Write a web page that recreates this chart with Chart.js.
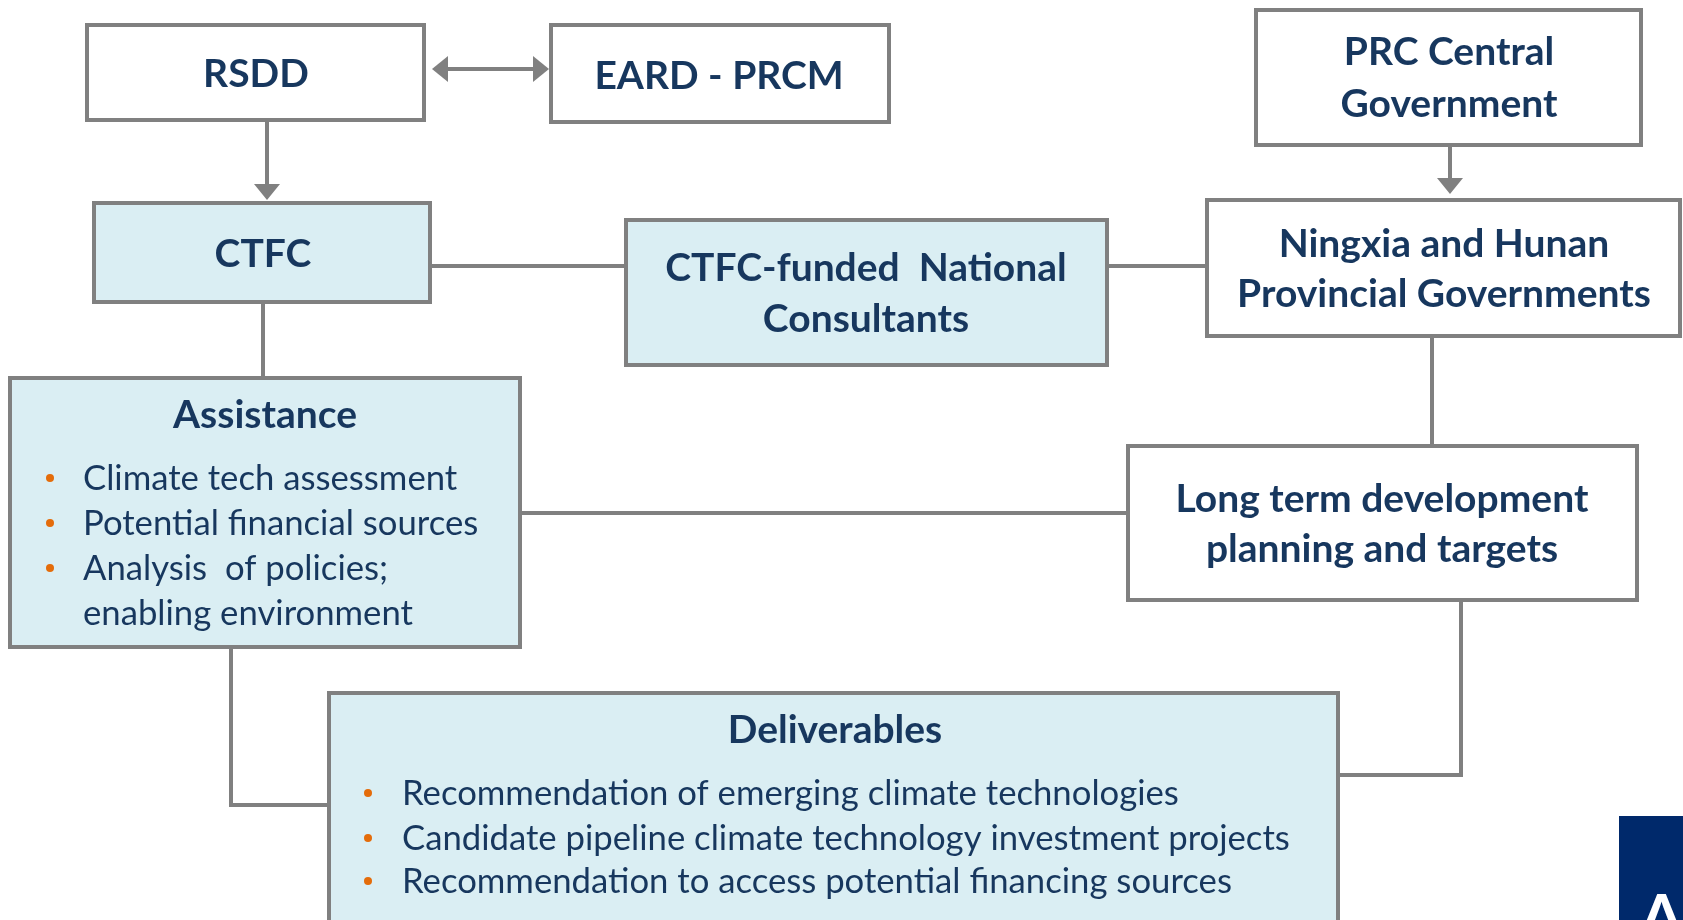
<!DOCTYPE html>
<html>
<head>
<meta charset="utf-8">
<script src="https://cdn.jsdelivr.net/npm/chart.js@4.4.1/dist/chart.umd.min.js"></script>
<style>
  html, body { margin: 0; padding: 0; background: #ffffff; }
  #wrap { width: 1683px; height: 920px; position: relative; }
</style>
</head>
<body>
<div id="wrap"><canvas id="flowChart"></canvas></div>
<script>
// Box captions (one entry per box, "\n" = line break)
const boxTitles = [
  "RSDD",
  "EARD - PRCM",
  "PRC Central\nGovernment",
  "CTFC",
  "CTFC-funded  National\nConsultants",
  "Ningxia and Hunan\nProvincial Governments",
  "Assistance",
  "Long term development\nplanning and targets",
  "Deliverables"
];
// Bullet lists
const assistanceItems = [
  "Climate tech assessment",
  "Potential financial sources",
  "Analysis  of policies;\nenabling environment"
];
const deliverableItems = [
  "Recommendation of emerging climate technologies",
  "Candidate pipeline climate technology investment projects",
  "Recommendation to access potential financing sources"
];

// Layout in diagram units (1 unit = 1 px of the 1683 x 920 slide)
const WHITE = "#ffffff", AQUA = "#daeef3";
const boxLayout = [
  { x0: 87,   y0: 25,  x1: 424,  y1: 120, fill: WHITE, cx: 256,  base: [87] },
  { x0: 551,  y0: 25,  x1: 889,  y1: 122, fill: WHITE, cx: 719,  base: [89] },
  { x0: 1256, y0: 10,  x1: 1641, y1: 145, fill: WHITE, cx: 1449, base: [65, 117] },
  { x0: 94,   y0: 203, x1: 430,  y1: 302, fill: AQUA,  cx: 263,  base: [267] },
  { x0: 626,  y0: 220, x1: 1107, y1: 365, fill: AQUA,  cx: 866,  base: [281, 332] },
  { x0: 1207, y0: 200, x1: 1680, y1: 336, fill: WHITE, cx: 1444, base: [257, 307] },
  { x0: 10,   y0: 378, x1: 520,  y1: 647, fill: AQUA,  cx: 265,  base: [428] },
  { x0: 1128, y0: 446, x1: 1637, y1: 600, fill: WHITE, cx: 1382, base: [512, 562] },
  { x0: 329,  y0: 693, x1: 1338, y1: 940, fill: AQUA,  cx: 835,  base: [743] }
];
const listLayout = [
  { items: assistanceItems,  bulletX: 50,  textX: 83,  base: [490, 535, 580, 625] },
  { items: deliverableItems, bulletX: 368, textX: 402, base: [805, 850, 893] }
];

// Connectors: polylines, arrow = which ends get a head
const connectors = [
  { pts: [[267, 120], [267, 184]], arrow: "end" },
  { pts: [[448, 69], [533, 69]], arrow: "both" },
  { pts: [[1450, 145], [1450, 178]], arrow: "end" },
  { pts: [[430, 266], [626, 266]] },
  { pts: [[1107, 266], [1207, 266]] },
  { pts: [[263, 302], [263, 378]] },
  { pts: [[1432, 336], [1432, 446]] },
  { pts: [[520, 513], [1128, 513]] },
  { pts: [[231, 647], [231, 805], [329, 805]] },
  { pts: [[1461, 600], [1461, 775], [1338, 775]] }
];

const LINE = "#808080", TEXT = "#17375e", BULLET = "#e46c0a";
const BODY_FONT = "34.7px Lato", TITLE_FONT = "bold 39px Lato";

const diagramPlugin = {
  id: "diagram",
  afterDatasetsDraw(chart) {
    const ctx = chart.ctx;
    const sx = chart.scales.x, sy = chart.scales.y;
    const X = v => sx.getPixelForValue(v), Y = v => sy.getPixelForValue(v);
    ctx.save();

    // arrow heads
    ctx.fillStyle = LINE;
    const head = (tip, from) => {
      const tx = X(tip[0]), ty = Y(tip[1]), fx = X(from[0]), fy = Y(from[1]);
      const a = Math.atan2(ty - fy, tx - fx), len = 16, half = 13;
      ctx.beginPath();
      ctx.moveTo(tx + Math.cos(a) * len, ty + Math.sin(a) * len);
      ctx.lineTo(tx - Math.sin(a) * half, ty + Math.cos(a) * half);
      ctx.lineTo(tx + Math.sin(a) * half, ty - Math.cos(a) * half);
      ctx.closePath();
      ctx.fill();
    };
    connectors.forEach(c => {
      const p = c.pts;
      if (c.arrow === "end" || c.arrow === "both") head(p[p.length - 1], p[p.length - 2]);
      if (c.arrow === "both") head(p[0], p[1]);
    });

    // boxes
    boxLayout.forEach((b, i) => {
      const x0 = X(b.x0), y0 = Y(b.y0), x1 = X(b.x1), y1 = Y(b.y1);
      ctx.fillStyle = b.fill;
      ctx.fillRect(x0, y0, x1 - x0, y1 - y0);
      ctx.strokeStyle = LINE;
      ctx.lineWidth = 4;
      ctx.strokeRect(x0, y0, x1 - x0, y1 - y0);
      ctx.fillStyle = TEXT;
      ctx.font = TITLE_FONT;
      ctx.textAlign = "center";
      ctx.textBaseline = "alphabetic";
      boxTitles[i].split("\n").forEach((line, k) => {
        ctx.fillText(line, X(b.cx), Y(b.base[k]));
      });
    });

    // bullet lists
    ctx.font = BODY_FONT;
    ctx.textAlign = "left";
    listLayout.forEach(l => {
      let row = 0;
      l.items.forEach(item => {
        item.split("\n").forEach((line, k) => {
          const by = Y(l.base[row]);
          if (k === 0) {
            ctx.fillStyle = BULLET;
            ctx.beginPath();
            ctx.arc(X(l.bulletX), by - 12, 4, 0, Math.PI * 2);
            ctx.fill();
          }
          ctx.fillStyle = TEXT;
          ctx.fillText(line, X(l.textX), by);
          row++;
        });
      });
    });

    // corner logo
    ctx.fillStyle = "#00296b";
    ctx.fillRect(X(1619), Y(816), X(1683) - X(1619), Y(920) - Y(816));
    ctx.fillStyle = WHITE;
    ctx.font = "bold 62px Lato";
    ctx.textAlign = "left";
    ctx.fillText("A", X(1640), Y(938));
    ctx.restore();
  }
};

function build() {
  new Chart(document.getElementById("flowChart"), {
    type: "scatter",
    data: {
      datasets: connectors.map(c => ({
        data: c.pts.map(p => ({ x: p[0], y: p[1] })),
        showLine: true,
        borderColor: LINE,
        borderWidth: 4,
        borderCapStyle: "butt",
        borderJoinStyle: "miter",
        pointRadius: 0,
        fill: false
      }))
    },
    options: {
      responsive: true,
      maintainAspectRatio: false,
      animation: false,
      events: [],
      layout: { padding: 0 },
      plugins: { legend: { display: false }, tooltip: { enabled: false } },
      scales: {
        x: { type: "linear", min: 0, max: 1683, display: false },
        y: { type: "linear", min: 0, max: 920, reverse: true, display: false }
      }
    },
    plugins: [diagramPlugin]
  });
}

Promise.all([document.fonts.load(BODY_FONT), document.fonts.load(TITLE_FONT)])
  .then(build, build);
</script>
</body>
</html>
